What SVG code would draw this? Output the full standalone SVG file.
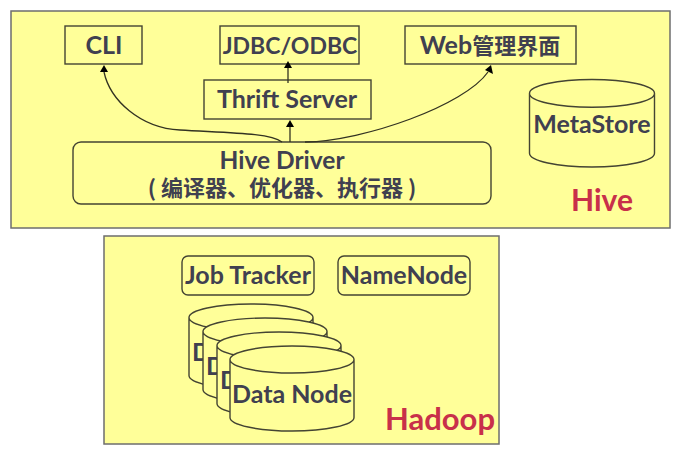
<svg xmlns="http://www.w3.org/2000/svg" width="679" height="453" viewBox="0 0 679 453">
<style>
.panel{fill:#ffff99;stroke:#6e6e6e;stroke-width:1.5}
.n{fill:#ffff99;stroke:#444433;stroke-width:1.4}
.t{font-family:"Lato","Noto Sans CJK SC",sans-serif;font-weight:700;font-size:25px;fill:#404050;text-anchor:middle}
.cn{font-family:"Noto Sans CJK SC",sans-serif;font-weight:700;font-size:22px;fill:#404050;text-anchor:middle}
.lab{font-family:"Lato",sans-serif;font-weight:700;font-size:31px;fill:#c8304a;text-anchor:middle}
.c{fill:none;stroke:#333322;stroke-width:1.3}
.h{fill:#000}
</style>
<defs>
<path id="cyl" d="M0 13.500A62 13.500 0 0 1 124 13.500V71.500A62 13.500 0 0 1 0 71.500Z M0 13.500A62 13.500 0 0 0 124 13.500A62 13.500 0 0 1 0 13.500Z"/>
</defs>
<g id="hive-panel"><rect class="panel" x="11" y="11" width="659" height="217"/><text class="lab" x="602" y="211" style="font-size:30px">Hive</text></g>
<g id="hadoop-panel"><rect class="panel" x="104" y="236" width="395" height="208"/><text class="lab" x="440" y="430">Hadoop</text></g>
<g id="cli"><rect class="n" x="65" y="26" width="77" height="38"/><text class="t" x="104" y="54">CLI</text></g>
<g id="jdbc"><rect class="n" x="220" y="26" width="139" height="38"/><text class="t" x="290" y="54" style="font-size:23px">JDBC/ODBC</text></g>
<g id="web"><rect class="n" x="405" y="26" width="171" height="38"/><text class="t" x="490" y="54">Web<tspan class="cn">管理界面</tspan></text></g>
<g id="thrift"><rect class="n" x="204" y="80" width="167" height="39"/><text class="t" x="287" y="108">Thrift Server</text></g>
<g id="driver"><rect class="n" x="73" y="142" width="418" height="62" rx="8"/><text class="t" x="282" y="169" style="font-size:24.500px">Hive Driver</text><text class="cn" x="282" y="196">( 编译器、优化器、执行器 )</text></g>
<g id="metastore"><use href="#cyl" class="n" transform="translate(529.500 79.500) scale(1.008 1.03)"/><text class="t" x="592" y="133">MetaStore</text></g>
<g id="jobtracker"><rect class="n" x="182" y="256" width="132" height="39" rx="6"/><text class="t" x="248" y="284">Job Tracker</text></g>
<g id="namenode"><rect class="n" x="338" y="256" width="132" height="39" rx="6"/><text class="t" x="404" y="284">NameNode</text></g>
<g id="datanode1"><use href="#cyl" class="n" x="189" y="304"/><text class="t" x="252" y="361">Data Node</text></g>
<g id="datanode2"><use href="#cyl" class="n" x="203" y="318"/><text class="t" x="266" y="375">Data Node</text></g>
<g id="datanode3"><use href="#cyl" class="n" x="217" y="332"/><text class="t" x="280" y="389">Data Node</text></g>
<g id="datanode4"><use href="#cyl" class="n" x="230" y="346"/><text class="t" x="292" y="403">Data Node</text></g>
<g id="connectors">
<path class="c" d="M104 72C110 100 140 128 180 130C230 133 270 133 282 142"/>
<path class="c" d="M288 83V68"/>
<path class="c" d="M290 142V127"/>
<path class="c" d="M305 142C365 141 465 105 488 72"/>
<path class="h" d="M104 65L108 72H100Z"/>
<path class="h" d="M288 61L292 68H284Z"/>
<path class="h" d="M290 120L294 127H286Z"/>
<path class="h" d="M491 65L493 74L485 70Z"/>
</g>
</svg>
